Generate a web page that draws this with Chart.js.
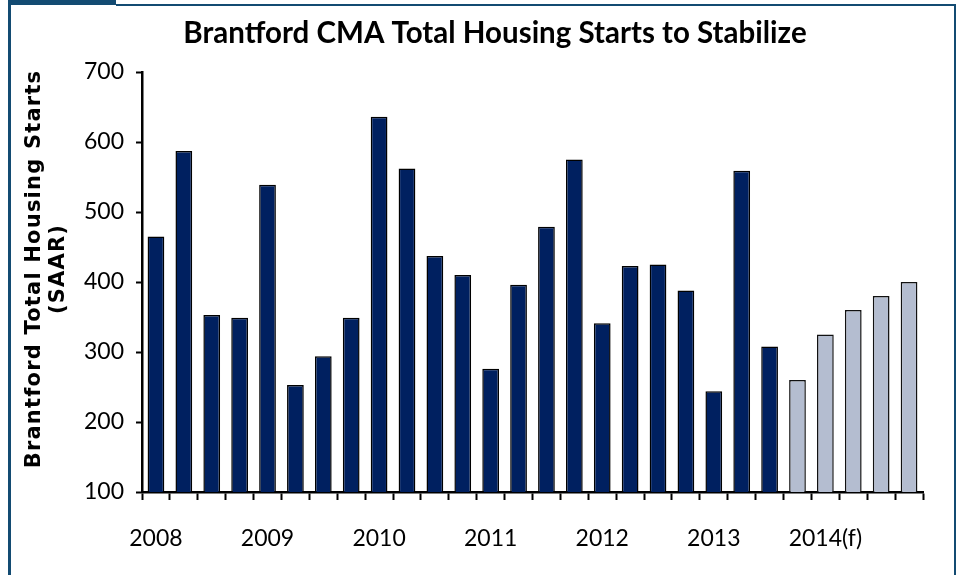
<!DOCTYPE html>
<html lang="en">
<head>
<meta charset="UTF-8">
<title>Brantford CMA Total Housing Starts</title>
<style>
  html, body { margin: 0; padding: 0; background: #fff; }
  #wrap { position: relative; width: 959px; height: 575px; }
</style>
</head>
<body>
<div id="wrap"><canvas id="chart" width="959" height="575"></canvas></div>
<script src="https://cdnjs.cloudflare.com/ajax/libs/Chart.js/4.4.0/chart.umd.js"></script>
<script>
// quarterly categories, 2008Q1 .. 2014Q4
const categories = [
  '2008Q1','2008Q2','2008Q3','2008Q4',
  '2009Q1','2009Q2','2009Q3','2009Q4',
  '2010Q1','2010Q2','2010Q3','2010Q4',
  '2011Q1','2011Q2','2011Q3','2011Q4',
  '2012Q1','2012Q2','2012Q3','2012Q4',
  '2013Q1','2013Q2','2013Q3','2013Q4',
  '2014Q1','2014Q2','2014Q3','2014Q4'
];
const tickLabels = [
  '2008','','','', '2009','','','', '2010','','','', '2011','','','',
  '2012','','','', '2013','','','', '2014(f)','','',''
];
// actual starts (SAAR); forecast quarters left null
const actualStarts = [465,587,353,349, 539,253,294,349, 636,562,437,410, 276,396,479,575,
                      341,423,425,388, 244,559,308,null, null,null,null,null];
// forecast starts
const forecastStarts = [null,null,null,null, null,null,null,null, null,null,null,null, null,null,null,null,
                        null,null,null,null, null,null,null,260, 325,360,380,400];
const yTicks = [100, 200, 300, 400, 500, 600, 700];

const titleText = 'Brantford CMA Total Housing Starts to Stabilize';
const yTitleLines = ['Brantford Total Housing Starts', '(SAAR)'];

const NAVY = '#002060';
const LIGHT = '#b4bdd0';
const FRAME = '#134b72';

const framePlugin = {
  id: 'frame',
  beforeDraw(chart) {
    const c = chart.ctx;
    c.save();
    c.fillStyle = '#fff';
    c.fillRect(0, 0, chart.width, chart.height);
    c.fillStyle = FRAME;
    c.fillRect(8, 0, 108, 5);      // tab top-left
    c.fillRect(8, 0, 3, chart.height); // left edge
    c.fillRect(116, 4, 840, 2);    // top edge
    c.fillRect(954, 4, 2, chart.height); // right edge
    c.restore();
  },
  afterDraw(chart) {
    const c = chart.ctx;
    c.save();
    c.fillStyle = '#000';
    // main title
    c.font = 'bold 29.5px Lato';
    c.textAlign = 'center';
    c.textBaseline = 'alphabetic';
    c.fillText(titleText, 495, 43);
    // rotated y-axis title, two lines
    c.font = 'bold 21px "DejaVu Sans"';
    c.letterSpacing = '1.2px';
    c.textBaseline = 'middle';
    c.translate(0, 269);
    c.rotate(-Math.PI / 2);
    c.fillText(yTitleLines[0], 0, 35);
    c.fillText(yTitleLines[1], 0, 59);
    c.restore();
  }
};

new Chart(document.getElementById('chart'), {
  type: 'bar',
  data: {
    labels: categories,
    datasets: [
      {
        label: 'Actual',
        data: actualStarts,
        backgroundColor: NAVY,
        borderColor: '#000',
        borderWidth: 1.5,
        borderSkipped: 'bottom',
        grouped: false,
        barPercentage: 0.6,
        categoryPercentage: 1
      },
      {
        label: 'Forecast',
        data: forecastStarts,
        backgroundColor: LIGHT,
        borderColor: '#111',
        borderWidth: 1.5,
        borderSkipped: 'bottom',
        grouped: false,
        barPercentage: 0.6,
        categoryPercentage: 1
      }
    ]
  },
  options: {
    responsive: false,
    animation: false,
    layout: { padding: { left: 0, right: 36, top: 72, bottom: 0 } },
    plugins: {
      legend: { display: false },
      tooltip: { enabled: false },
      title: { display: false }
    },
    scales: {
      x: {
        offset: true,
        grid: {
          offset: true,
          drawOnChartArea: false,
          drawTicks: true,
          tickLength: 8,
          tickWidth: 2,
          color: '#000'
        },
        border: { display: true, color: '#000', width: 2.5 },
        ticks: {
          autoSkip: false,
          maxRotation: 0,
          color: '#000',
          padding: 25,
          font: { family: 'Lato', size: 23 },
          callback: (v, i) => tickLabels[i]
        },
        afterFit: s => { s.height = 83; }
      },
      y: {
        min: 100,
        max: 700,
        afterBuildTicks: s => { s.ticks = yTicks.map(v => ({ value: v })); },
        grid: {
          drawOnChartArea: false,
          tickLength: 6,
          tickWidth: 2,
          color: '#000'
        },
        border: { display: true, color: '#000', width: 2.5 },
        ticks: {
          color: '#000',
          padding: 12,
          font: { family: 'Lato', size: 23 }
        },
        afterFit: s => { s.width = 142; }
      }
    }
  },
  plugins: [framePlugin]
});
</script>
</body>
</html>
